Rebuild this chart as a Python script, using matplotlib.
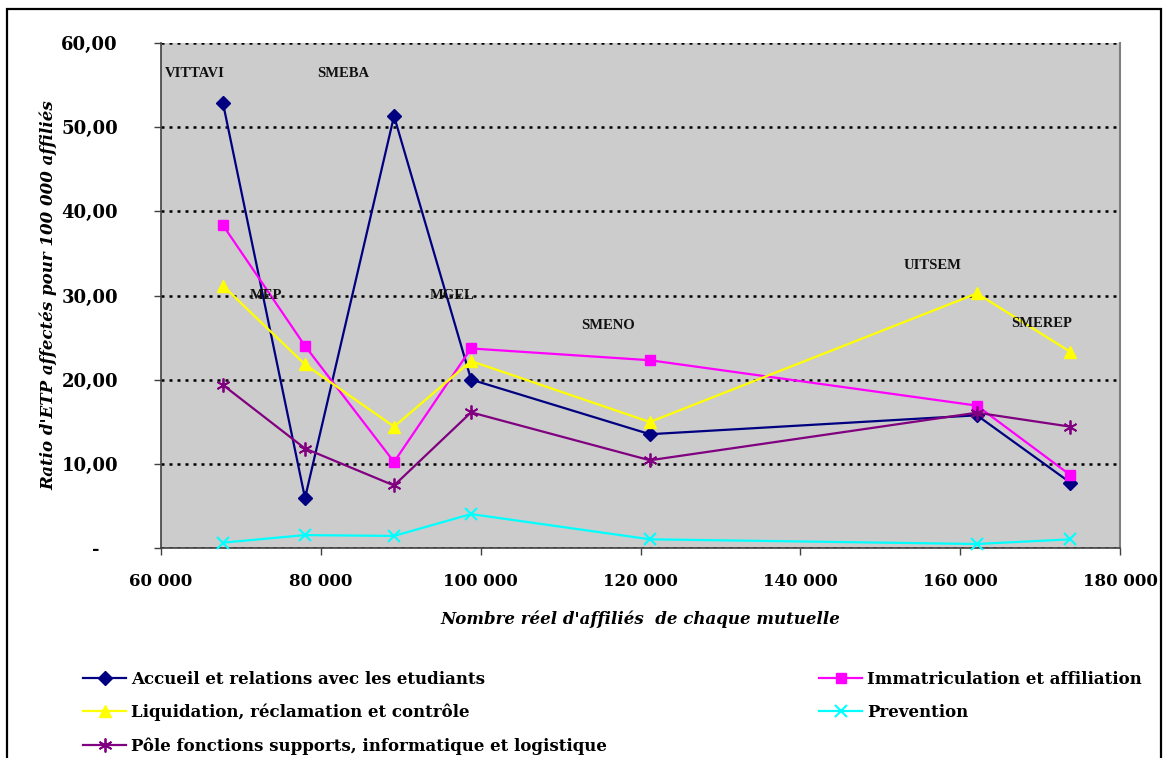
import matplotlib
matplotlib.use("Agg")
import matplotlib.pyplot as plt
from matplotlib.ticker import FixedLocator, FuncFormatter
from matplotlib.patches import Rectangle

# ---------------- data ----------------
mutuelles = ["VITTAVI", "MEP", "SMEBA", "MGEL", "SMENO", "UITSEM", "SMEREP"]
affilies = [67760, 78020, 89160, 98800, 121170, 162100, 173770]

accueil = [52.86, 5.90, 51.35, 20.00, 13.50, 15.75, 7.75]
immatriculation = [38.35, 24.00, 10.20, 23.70, 22.30, 16.90, 8.65]
liquidation = [31.15, 21.80, 14.40, 22.20, 14.95, 30.25, 23.30]
prevention = [0.60, 1.50, 1.40, 4.00, 1.00, 0.44, 1.00]
pole = [19.35, 11.80, 7.40, 16.10, 10.40, 16.06, 14.40]

series_names = [
    "Accueil et relations avec les etudiants",
    "Immatriculation et affiliation",
    "Liquidation, réclamation et contrôle",
    "Prevention",
    "Pôle fonctions supports, informatique et logistique",
]

x_ticks = [60000, 80000, 100000, 120000, 140000, 160000, 180000]
y_ticks = [0, 10, 20, 30, 40, 50, 60]

x_label = "Nombre réel d'affiliés  de chaque mutuelle"
y_label = "Ratio d'ETP affectés pour 100 000 affiliés"

# ---------------- layout / style ----------------
# anchor (data coords) of each mutuelle name label
label_anchor_x = [60500, 71140, 79520, 93580, 112540, 152920, 166360]
label_anchor_y = [56.35, 29.95, 56.35, 29.95, 26.45, 33.6, 26.7]

W, H = 1168, 758
fig = plt.figure(figsize=(W / 100, H / 100), dpi=100)
fig.patch.set_facecolor("white")

left, right = 161 / W, 1120 / W
bottom, top = 1 - 547.7 / H, 1 - 43.3 / H
ax = fig.add_axes([left, bottom, right - left, top - bottom])
ax.set_facecolor("#cccccc")

styles = [
    dict(color="#000080", marker="D", markersize=7),
    dict(color="#ff00ff", marker="s", markersize=7.5),
    dict(color="#ffff00", marker="^", markersize=9),
    dict(color="#00ffff", marker="x", markersize=8, markeredgewidth=1.5),
    dict(color="#800080", marker=(6, 2, 0), markersize=10, markeredgewidth=1.3),
]
all_series = [accueil, immatriculation, liquidation, prevention, pole]

handles = []
for vals, name, st in zip(all_series, series_names, styles):
    (h,) = ax.plot(affilies, vals, linewidth=1.6, label=name, zorder=3,
                   clip_on=False, **st)
    handles.append(h)

ax.set_xlim(60000, 180000)
ax.set_ylim(0, 60)

ax.yaxis.set_major_locator(FixedLocator(y_ticks))
ax.xaxis.set_major_locator(FixedLocator(x_ticks))
ax.yaxis.set_major_formatter(FuncFormatter(
    lambda v, p: "-   " if v == 0 else f"{v:.2f}".replace(".", ",")))
ax.xaxis.set_major_formatter(FuncFormatter(
    lambda v, p: f"{int(v):,}".replace(",", " ")))

for lab in ax.get_xticklabels():
    lab.set_fontfamily("DejaVu Serif")
    lab.set_fontweight("bold")
    lab.set_fontsize(12)
for lab in ax.get_yticklabels():
    lab.set_fontfamily("DejaVu Serif")
    lab.set_fontweight("bold")
    lab.set_fontsize(13)

ax.tick_params(axis="y", direction="out", length=5, width=1, color="#404040", pad=26)
ax.tick_params(axis="x", direction="out", length=5, width=1, color="#404040", pad=13)

ax.yaxis.grid(True, color="black", linestyle=(0, (1.2, 2.0)), linewidth=1.8, zorder=1)
ax.set_axisbelow(True)

ax.spines["top"].set_visible(False)
ax.spines["right"].set_color("#808080")
ax.spines["right"].set_linewidth(1.5)
ax.spines["left"].set_color("#404040")
ax.spines["left"].set_linewidth(1.2)
ax.spines["bottom"].set_color("#404040")
ax.spines["bottom"].set_linewidth(1.2)

ax.set_xlabel(x_label, fontfamily="DejaVu Serif", fontweight="bold",
              fontstyle="italic", fontsize=12, labelpad=15)
ax.set_ylabel(y_label, fontfamily="DejaVu Serif", fontweight="bold",
              fontstyle="italic", fontsize=12, labelpad=3)

for name, lx, ly in zip(mutuelles, label_anchor_x, label_anchor_y):
    ax.text(lx, ly, name, fontfamily="Liberation Serif", fontweight="bold",
            fontsize=10.5, ha="left", va="center", color="#111111", zorder=4)

# legend: row-major order like the reference
order = [0, 2, 4, 1, 3]
leg = fig.legend([handles[i] for i in order], [series_names[i] for i in order],
                 ncol=2, loc="upper left", bbox_to_anchor=(68 / W, 1 - 656 / H),
                 frameon=False, handlelength=2.6, handletextpad=0.3,
                 columnspacing=12.7, labelspacing=0.95,
                 prop=dict(family="DejaVu Serif", weight="bold", size=12))

# outer chart frame
fig.patches.append(Rectangle((7 / W, -0.05), (1161 - 7) / W, 1.05 - 9 / H,
                             transform=fig.transFigure, fill=False,
                             edgecolor="black", linewidth=1.6))

fig.savefig("out.png", dpi=100)
